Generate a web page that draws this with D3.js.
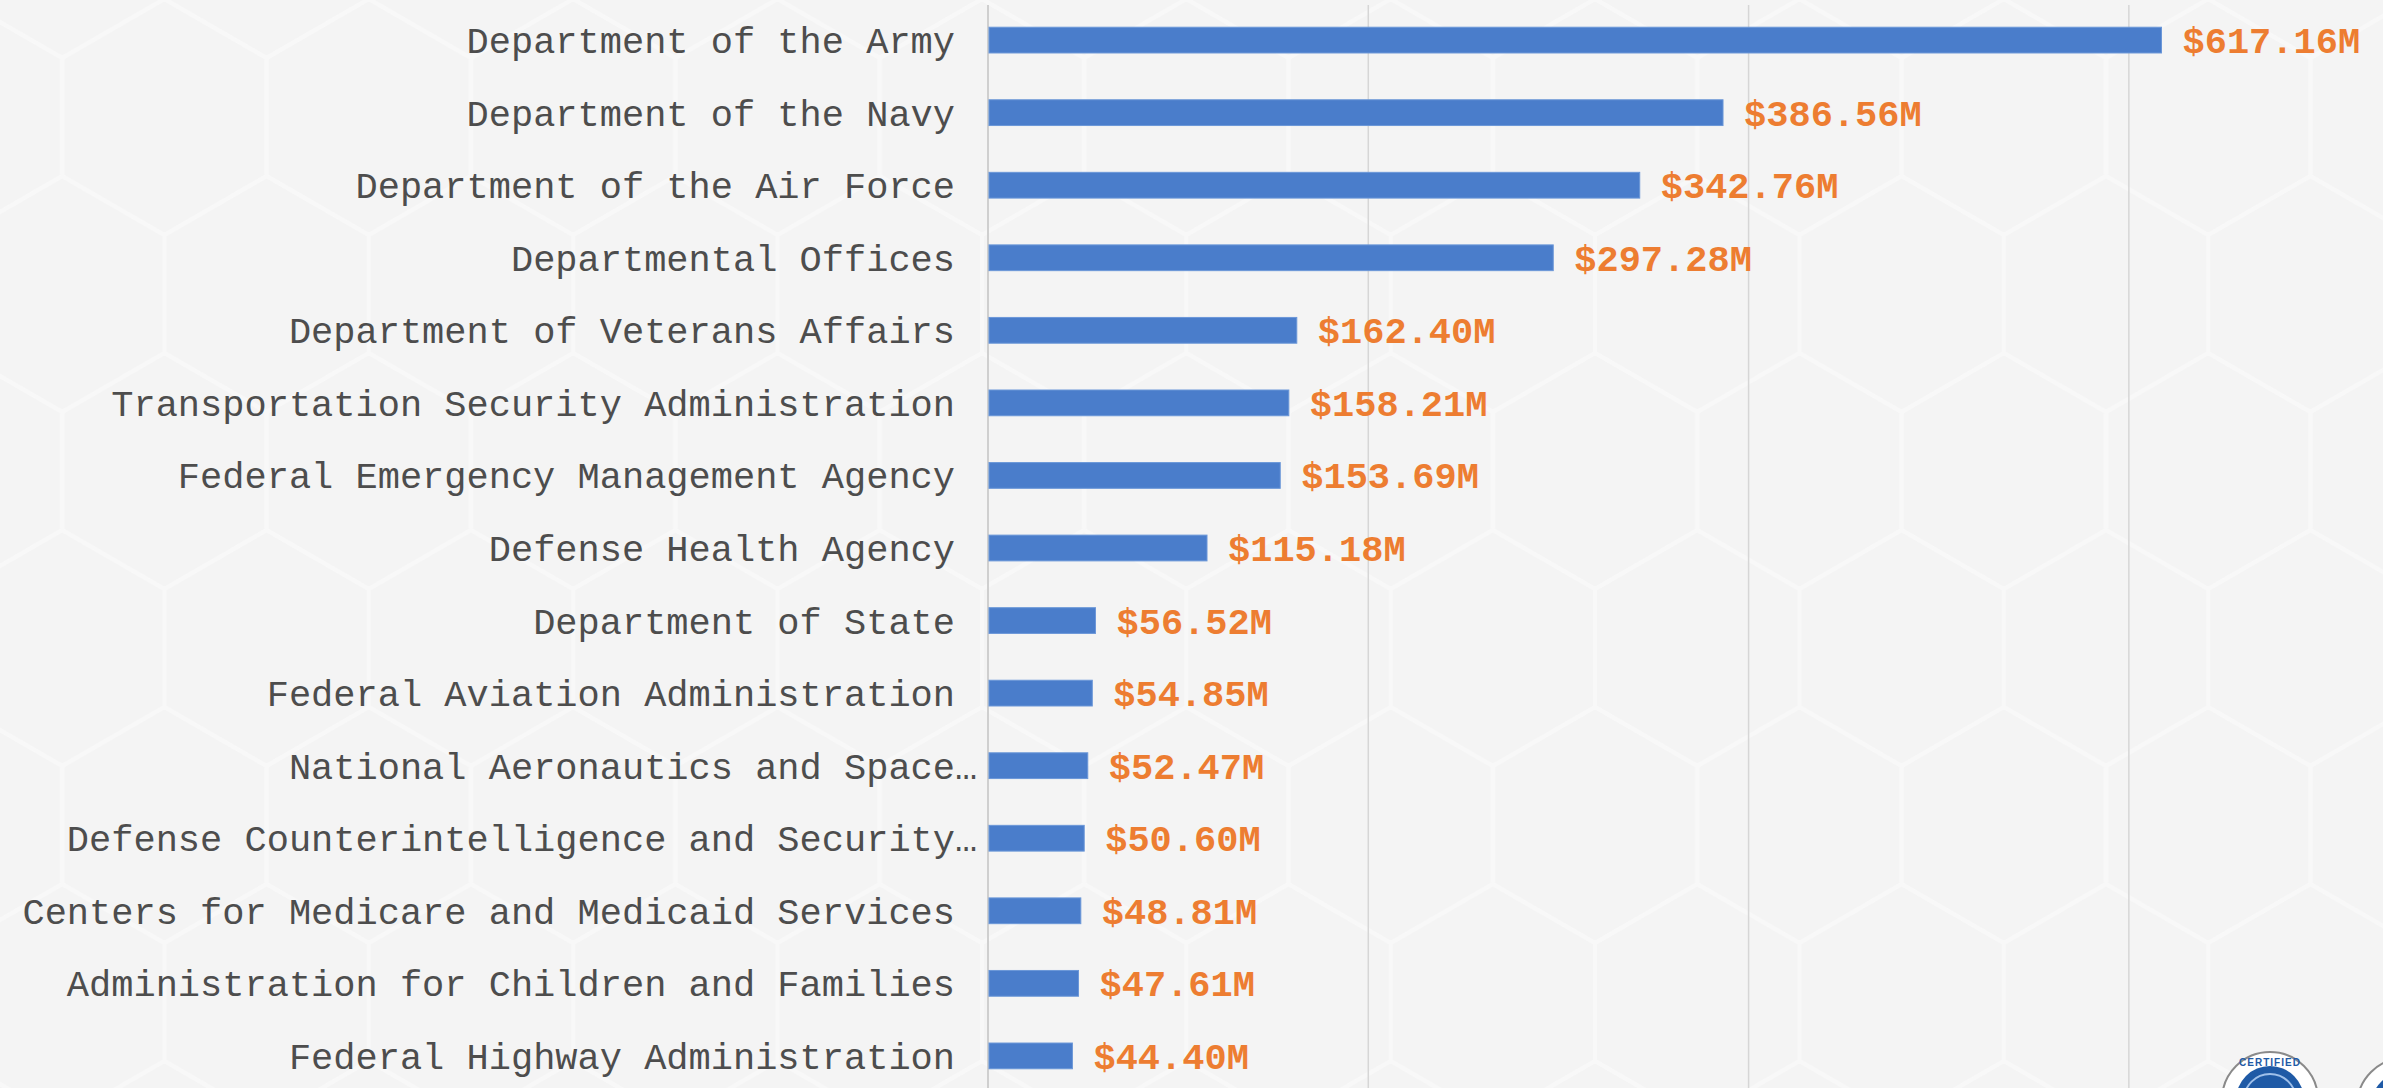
<!DOCTYPE html>
<html lang="en">
<head>
    <meta charset="UTF-8">
    <title>Top Agencies by Obligations</title>
    <style>
        body {
            margin: 0;
            padding: 0;
            background-color: #f4f4f4;
            overflow: hidden;
        }
        .label {
            font-family: "Courier New", "Liberation Mono", monospace;
            font-size: 37px;
            fill: #4d4d4d;
        }
        .value {
            font-family: "Courier New", "Liberation Mono", monospace;
            font-size: 37px;
            font-weight: bold;
            fill: #ed7d31;
        }
        .grid line {
            stroke: #d6d6d6;
            stroke-width: 1.5px;
        }
    </style>
</head>
<body>
    <div id="chart"></div>

    <script src="https://d3js.org/d3.v7.min.js"></script>
    <script>
        const width = 2383;
        const height = 1088;

        // Agencies, largest first
        const agencies = [
            "Department of the Army",
            "Department of the Navy",
            "Department of the Air Force",
            "Departmental Offices",
            "Department of Veterans Affairs",
            "Transportation Security Administration",
            "Federal Emergency Management Agency",
            "Defense Health Agency",
            "Department of State",
            "Federal Aviation Administration",
            "National Aeronautics and Space…",
            "Defense Counterintelligence and Security…",
            "Centers for Medicare and Medicaid Services",
            "Administration for Children and Families",
            "Federal Highway Administration"
        ];
        // Amounts in millions of dollars
        const amounts = [617.16, 386.56, 342.76, 297.28, 162.40, 158.21, 153.69, 115.18,
                         56.52, 54.85, 52.47, 50.60, 48.81, 47.61, 44.40];
        const gridTicks = [200, 400, 600];

        const rows = agencies.map((name, i) => ({name: name, value: amounts[i]}));

        const svg = d3.select("#chart").append("svg")
            .attr("width", width)
            .attr("height", height);

        // Very faint hexagon texture in the background
        const hexR = 118;
        const hexW = Math.sqrt(3) * hexR;
        const defs = svg.append("defs");
        const pattern = defs.append("pattern")
            .attr("id", "hex")
            .attr("patternUnits", "userSpaceOnUse")
            .attr("width", hexW)
            .attr("height", hexR * 3)
            .attr("x", -40)
            .attr("y", -60);
        const hexPath = (cx, cy) => d3.range(6).map(k => {
            const a = Math.PI / 3 * k + Math.PI / 6;
            return [cx + hexR * Math.cos(a), cy + hexR * Math.sin(a)];
        });
        [[hexW / 2, 0], [0, hexR * 1.5], [hexW, hexR * 1.5], [hexW / 2, hexR * 3]].forEach(c => {
            pattern.append("polygon")
                .attr("points", hexPath(c[0], c[1]).join(" "))
                .attr("fill", "none")
                .attr("stroke", "#f8f8f8")
                .attr("stroke-width", 4);
        });
        svg.append("rect")
            .attr("width", width)
            .attr("height", height)
            .attr("fill", "#f4f4f4");
        svg.append("rect")
            .attr("width", width)
            .attr("height", height)
            .attr("fill", "url(#hex)");

        const x = d3.scaleLinear()
            .domain([0, 700])
            .range([988, 2319]);

        const y = d3.scaleBand()
            .domain(agencies)
            .range([4, 1092])
            .paddingInner(0.645)
            .paddingOuter(0.32);

        // Vertical gridlines
        svg.append("g")
            .attr("class", "grid")
            .selectAll("line")
            .data(gridTicks)
            .enter().append("line")
            .attr("x1", d => x(d))
            .attr("x2", d => x(d))
            .attr("y1", 5)
            .attr("y2", height);

        // Category axis line
        svg.append("line")
            .attr("x1", x(0))
            .attr("x2", x(0))
            .attr("y1", 5)
            .attr("y2", height)
            .attr("stroke", "#cfcfcf")
            .attr("stroke-width", 2);

        // Bars
        svg.append("g")
            .selectAll("rect")
            .data(rows)
            .enter().append("rect")
            .attr("x", x(0) + 1)
            .attr("y", d => y(d.name))
            .attr("width", d => x(d.value) - x(0) - 1)
            .attr("height", y.bandwidth())
            .attr("fill", "#4a7dcb")
            .attr("stroke", "#6b97d8")
            .attr("stroke-width", 1);

        // Category labels (ellipsis hangs past the normal right edge)
        const labelX = 955;
        const labels = svg.append("g")
            .selectAll("text")
            .data(rows)
            .enter().append("text")
            .attr("class", "label")
            .attr("y", d => y(d.name) + y.bandwidth() / 2)
            .attr("dy", "0.35em");
        labels.append("tspan")
            .attr("x", labelX)
            .attr("text-anchor", "end")
            .text(d => d.name.replace("…", ""));
        svg.selectAll("text.label").filter(d => d.name.endsWith("…"))
            .each(function (d) {
                d3.select(this.parentNode).append("text")
                    .attr("class", "label")
                    .attr("x", labelX)
                    .attr("y", y(d.name) + y.bandwidth() / 2)
                    .attr("dy", "0.35em")
                    .text("…");
            });

        // Value labels
        const fmt = d3.format(".2f");
        svg.append("g")
            .selectAll("text")
            .data(rows)
            .enter().append("text")
            .attr("class", "value")
            .attr("x", d => x(d.value) + 21)
            .attr("y", d => y(d.name) + y.bandwidth() / 2)
            .attr("dy", "0.35em")
            .text(d => "$" + fmt(d.value) + "M");

        // Certification seals, bottom right corner
        const seals = svg.append("g");
        [[2270, 1100], [2405, 1106]].forEach(c => {
            seals.append("circle")
                .attr("cx", c[0]).attr("cy", c[1]).attr("r", 48)
                .attr("fill", "#ffffff")
                .attr("stroke", "#8a8a8a")
                .attr("stroke-width", 2);
            seals.append("circle")
                .attr("cx", c[0]).attr("cy", c[1]).attr("r", 34)
                .attr("fill", "#1f5aa6");
            seals.append("circle")
                .attr("cx", c[0]).attr("cy", c[1]).attr("r", 26)
                .attr("fill", "none")
                .attr("stroke", "#9fc0ea")
                .attr("stroke-width", 2);
        });
        seals.append("text")
            .attr("x", 2270)
            .attr("y", 1066)
            .attr("text-anchor", "middle")
            .attr("font-family", "Liberation Sans, sans-serif")
            .attr("font-size", 10)
            .attr("font-weight", "bold")
            .attr("fill", "#1f5aa6")
            .attr("letter-spacing", 1)
            .text("CERTIFIED");
    </script>
</body>
</html>
